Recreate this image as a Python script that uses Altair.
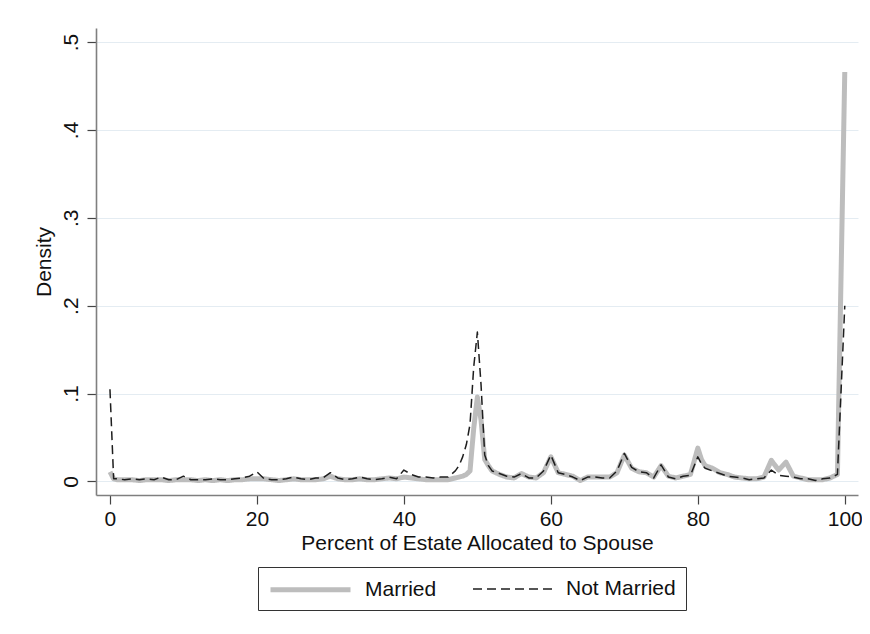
import altair as alt
import pandas as pd

x_vals = [0, 0.5, 1, 2, 3, 4, 5, 6, 7, 8, 9, 10, 11, 12, 13, 14, 15, 16, 17, 18, 19, 20, 21,
          22, 23, 24, 25, 26, 27, 28, 29, 30, 31, 32, 33, 34, 35, 36, 37, 38, 39, 40, 41, 42,
          43, 44, 45, 46, 47, 47.5, 48, 48.5, 49, 49.5, 50, 50.5, 51, 51.5, 52, 53, 54, 55, 56,
          57, 58, 59, 60, 61, 62, 63, 64, 65, 66, 67, 68, 69, 70, 71, 72, 73, 74, 75, 76, 77,
          78, 79, 80, 80.5, 81, 82, 83, 84, 85, 86, 87, 88, 89, 90, 91, 92, 93, 94, 95, 96, 97,
          98, 99, 100]

married = [0.011, 0.003, 0.002, 0.002, 0.002, 0.001, 0.002, 0.002, 0.002, 0.001, 0.002, 0.002,
           0.002, 0.001, 0.002, 0.001, 0.002, 0.001, 0.002, 0.002, 0.003, 0.003, 0.003,
           0.002, 0.001, 0.002, 0.003, 0.002, 0.002, 0.002, 0.003, 0.006, 0.003, 0.002, 0.002,
           0.003, 0.002, 0.002, 0.003, 0.004, 0.003, 0.005, 0.004, 0.003,
           0.002, 0.002, 0.002, 0.002, 0.004, 0.005, 0.006, 0.008, 0.012, 0.060, 0.096, 0.070,
           0.025, 0.018, 0.012, 0.008, 0.005, 0.004, 0.009,
           0.005, 0.004, 0.010, 0.028, 0.010, 0.008, 0.006, 0.001, 0.005, 0.005, 0.005, 0.005,
           0.010, 0.030, 0.015, 0.011, 0.010, 0.005, 0.018, 0.006, 0.004,
           0.006, 0.008, 0.038, 0.025, 0.018, 0.015, 0.010, 0.008, 0.005, 0.004, 0.003, 0.003,
           0.005, 0.024, 0.013, 0.022, 0.006, 0.004, 0.002, 0.002, 0.002,
           0.004, 0.008, 0.466]

not_married = [0.105, 0.003, 0.003, 0.002, 0.003, 0.002, 0.003, 0.002, 0.005, 0.002, 0.002,
               0.006, 0.002, 0.002, 0.002, 0.003, 0.002, 0.002, 0.003, 0.004, 0.006, 0.011,
               0.003,
               0.002, 0.002, 0.003, 0.005, 0.003, 0.002, 0.004, 0.004, 0.010, 0.004, 0.002,
               0.003, 0.005, 0.003, 0.002, 0.003, 0.005, 0.003, 0.013, 0.008, 0.005,
               0.005, 0.004, 0.005, 0.005, 0.012, 0.018, 0.028, 0.042, 0.065, 0.130, 0.170,
               0.110, 0.030, 0.018, 0.012, 0.009, 0.006, 0.005, 0.009,
               0.004, 0.004, 0.012, 0.030, 0.010, 0.008, 0.005, 0.001, 0.005, 0.005, 0.004,
               0.004, 0.012, 0.032, 0.016, 0.011, 0.010, 0.004, 0.019, 0.005, 0.003,
               0.006, 0.007, 0.028, 0.020, 0.015, 0.012, 0.009, 0.006, 0.005, 0.004, 0.002,
               0.003, 0.004, 0.013, 0.007, 0.006, 0.005, 0.003, 0.003, 0.001, 0.003,
               0.004, 0.008, 0.200]

groups = ["Married", "Not Married"]
x_ticks = [0, 20, 40, 60, 80, 100]
y_ticks = [0, 0.1, 0.2, 0.3, 0.4, 0.5]

rows = []
for xv, yv in zip(x_vals, married):
    rows.append({"pct": xv, "density": yv, "group": groups[0]})
for xv, yv in zip(x_vals, not_married):
    rows.append({"pct": xv, "density": yv, "group": groups[1]})
df = pd.DataFrame(rows)

FONT = "Liberation Sans"

chart = (
    alt.Chart(df)
    .mark_line(strokeJoin="round")
    .encode(
        x=alt.X(
            "pct:Q",
            scale=alt.Scale(domain=[-1.9, 101.8], nice=False, zero=False),
            axis=alt.Axis(
                values=x_ticks,
                title="Percent of Estate Allocated to Spouse",
                grid=False,
                labelPadding=4,
                titlePadding=3,
            ),
        ),
        y=alt.Y(
            "density:Q",
            scale=alt.Scale(domain=[-0.0154, 0.516], nice=False, zero=False),
            axis=alt.Axis(
                values=y_ticks,
                title="Density",
                grid=True,
                labelAngle=270,
                labelAlign="center",
                labelBaseline="bottom",
                labelPadding=6,
                titlePadding=6,
                labelExpr="datum.value == 0 ? '0' : substring(format(datum.value, '.1f'), 1)",
            ),
        ),
        color=alt.Color(
            "group:N",
            scale=alt.Scale(domain=groups, range=["#bdbdbd", "#1e1e1e"]),
            legend=alt.Legend(
                title=None,
                orient="none",
                legendX=162,
                legendY=539,
                direction="horizontal",
                symbolType="M-1,0H7",
                symbolSize=400,
                labelOffset=72,
                columnPadding=33,
                padding=10,
                strokeColor="#333333",
                labelFont=FONT,
                labelFontSize=21,
                labelColor="#111111",
            ),
        ),
        strokeDash=alt.StrokeDash(
            "group:N",
            scale=alt.Scale(domain=groups, range=[[1, 0], [9, 5]]),
            legend=alt.Legend(title=None),
        ),
        strokeWidth=alt.StrokeWidth(
            "group:N",
            scale=alt.Scale(domain=groups, range=[5, 1.5]),
            legend=alt.Legend(title=None),
        ),
    )
    .properties(
        width=762,
        height=467,
        autosize=alt.AutoSizeParams(type="none"),
        padding={"left": 88, "top": 20, "right": 4, "bottom": 125},
    )
    .configure_view(stroke=None)
    .configure_axis(
        labelFont=FONT,
        titleFont=FONT,
        labelFontSize=21,
        titleFontSize=21,
        titleFontWeight="normal",
        labelColor="#111111",
        titleColor="#111111",
        domainColor="#7f7f7f",
        domainWidth=1.6,
        tickColor="#444444",
        tickWidth=1.2,
        tickSize=9,
        gridColor="#e4ecf2",
        gridWidth=1,
    )
)

chart.save("out.html", embed_options={"renderer": "svg", "actions": False})
